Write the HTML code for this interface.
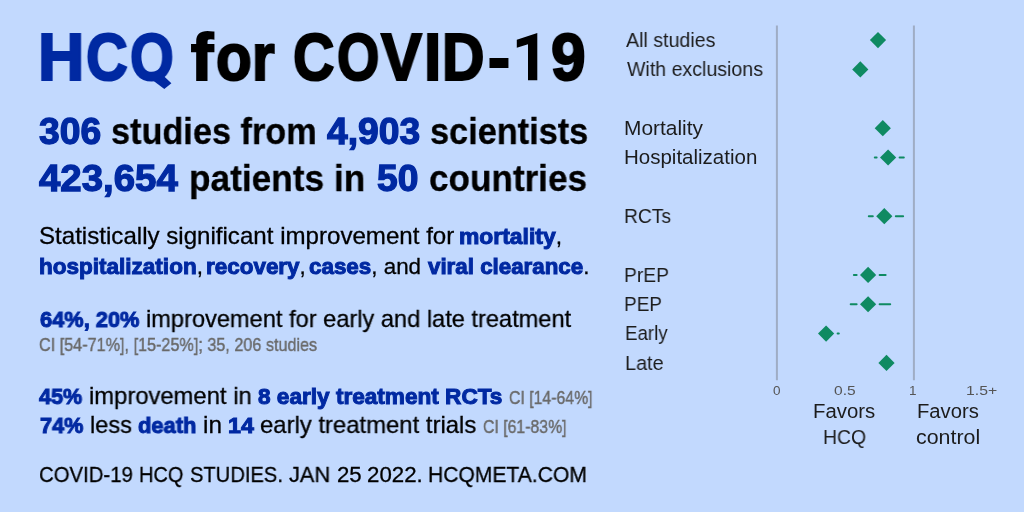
<!DOCTYPE html>
<html><head><meta charset="utf-8"><style>
html,body{margin:0;padding:0;}
body{width:1024px;height:512px;overflow:hidden;background:#c2d9fe;position:relative;font-family:"Liberation Sans",sans-serif;}
.ln,.fx{will-change:transform;position:absolute;white-space:nowrap;transform-origin:0 50%;color:#000;}
.b{color:#0029a2;font-weight:bold;}
.m{font-weight:bold;}
.ln{-webkit-text-stroke:0.3px currentColor;}
.ln .b{-webkit-text-stroke:1.0px currentColor;}
.ln .ci{-webkit-text-stroke:0.45px currentColor;}
.ln .lab{-webkit-text-stroke:0px currentColor;}
.ln .tk{-webkit-text-stroke:0px;}
.big .b,.big .m{-webkit-text-stroke:2.2px currentColor;}
.mid .b{-webkit-text-stroke:1.3px currentColor;}
.mid .m{-webkit-text-stroke:0.3px currentColor;}
.ci{color:#6a6a6a;}
.lab{color:#1c1c1c;}
.tk{color:#555;}
svg{position:absolute;left:0;top:0;}
</style></head><body>
<svg width="1024" height="512" viewBox="0 0 1024 512"><line x1="776.9" y1="25.6" x2="776.9" y2="380.2" stroke="#9fadc5" stroke-width="2"/><line x1="913.9" y1="25.6" x2="913.9" y2="380.2" stroke="#9fadc5" stroke-width="2"/><polygon points="869.90,40.10 878.00,32.00 886.10,40.10 878.00,48.20" fill="#0f8a62"/><polygon points="852.20,69.45 860.30,61.35 868.40,69.45 860.30,77.55" fill="#0f8a62"/><polygon points="874.70,128.15 882.80,120.05 890.90,128.15 882.80,136.25" fill="#0f8a62"/><line x1="874.80" y1="157.50" x2="876.60" y2="157.50" stroke="#0f8a62" stroke-width="2" stroke-linecap="round"/><line x1="899.60" y1="157.50" x2="903.80" y2="157.50" stroke="#0f8a62" stroke-width="2" stroke-linecap="round"/><polygon points="880.00,157.50 888.10,149.40 896.20,157.50 888.10,165.60" fill="#0f8a62"/><line x1="868.80" y1="216.20" x2="872.80" y2="216.20" stroke="#0f8a62" stroke-width="2" stroke-linecap="round"/><line x1="895.80" y1="216.20" x2="903.10" y2="216.20" stroke="#0f8a62" stroke-width="2" stroke-linecap="round"/><polygon points="876.20,216.20 884.30,208.10 892.40,216.20 884.30,224.30" fill="#0f8a62"/><line x1="853.90" y1="274.90" x2="856.60" y2="274.90" stroke="#0f8a62" stroke-width="2" stroke-linecap="round"/><line x1="879.60" y1="274.90" x2="885.60" y2="274.90" stroke="#0f8a62" stroke-width="2" stroke-linecap="round"/><polygon points="860.00,274.90 868.10,266.80 876.20,274.90 868.10,283.00" fill="#0f8a62"/><line x1="850.70" y1="304.25" x2="856.60" y2="304.25" stroke="#0f8a62" stroke-width="2" stroke-linecap="round"/><line x1="879.60" y1="304.25" x2="890.20" y2="304.25" stroke="#0f8a62" stroke-width="2" stroke-linecap="round"/><polygon points="860.00,304.25 868.10,296.15 876.20,304.25 868.10,312.35" fill="#0f8a62"/><line x1="837.60" y1="333.60" x2="838.80" y2="333.60" stroke="#0f8a62" stroke-width="2" stroke-linecap="round"/><polygon points="818.00,333.60 826.10,325.50 834.20,333.60 826.10,341.70" fill="#0f8a62"/><polygon points="878.40,362.95 886.50,354.85 894.60,362.95 886.50,371.05" fill="#0f8a62"/><polygon points="153,80.6 158.5,75.5 164.2,76.4 171.4,83.2 164.3,89.1" fill="#0029a2"/><polygon points="537.3,32.9 516.8,39.8 516.8,47.7 528,44.2 528,80.3 537.3,80.3" fill="#000"/></svg>
<div class="ln big" style="left:38.31px;top:23.72px;font-size:66px;line-height:66px;transform:scaleX(0.9709);"><span class="b">H</span></div><div class="ln big" style="left:86.17px;top:23.72px;font-size:66px;line-height:66px;transform:scaleX(0.8761);"><span class="b">C</span></div><div class="ln big" style="left:129.91px;top:23.72px;font-size:66px;line-height:66px;transform:scaleX(0.8503);"><span class="b">O</span></div><div class="ln big" style="left:190.69px;top:23.72px;font-size:66px;line-height:66px;transform:scaleX(1.0095);"><span class="m">f</span></div><div class="ln big" style="left:215.50px;top:23.72px;font-size:66px;line-height:66px;transform:scaleX(0.8847);"><span class="m">o</span></div><div class="ln big" style="left:252.35px;top:23.72px;font-size:66px;line-height:66px;transform:scaleX(0.8792);"><span class="m">r</span></div><div class="ln big" style="left:292.99px;top:23.72px;font-size:66px;line-height:66px;transform:scaleX(0.8672);"><span class="m">C</span></div><div class="ln big" style="left:337.39px;top:23.72px;font-size:66px;line-height:66px;transform:scaleX(0.8254);"><span class="m">O</span></div><div class="ln big" style="left:381.44px;top:23.72px;font-size:66px;line-height:66px;transform:scaleX(0.9264);"><span class="m">V</span></div><div class="ln big" style="left:424.36px;top:23.72px;font-size:66px;line-height:66px;transform:scaleX(0.9397);"><span class="m">I</span></div><div class="ln big" style="left:441.64px;top:23.72px;font-size:66px;line-height:66px;transform:scaleX(0.8887);"><span class="m">D</span></div><div class="ln big" style="left:488.31px;top:23.72px;font-size:66px;line-height:66px;transform:scaleX(0.9805);"><span class="m">-</span></div><div class="ln big" style="left:551.05px;top:23.72px;font-size:66px;line-height:66px;transform:scaleX(0.9418);"><span class="m">9</span></div><div class="ln mid" style="left:38.60px;top:113.27px;font-size:37px;line-height:37px;transform:scaleX(1.0068);"><span class="b">306</span></div><div class="ln mid" style="left:111.38px;top:113.27px;font-size:37px;line-height:37px;transform:scaleX(0.9261);"><span class="m">studies from</span></div><div class="ln mid" style="left:327.30px;top:113.27px;font-size:37px;line-height:37px;transform:scaleX(1.0066);"><span class="b">4,903</span></div><div class="ln mid" style="left:429.69px;top:113.27px;font-size:37px;line-height:37px;transform:scaleX(0.9274);"><span class="m">scientists</span></div><div class="ln mid" style="left:38.59px;top:160.17px;font-size:37px;line-height:37px;transform:scaleX(1.0373);"><span class="b">423,654</span></div><div class="ln mid" style="left:189.31px;top:160.17px;font-size:37px;line-height:37px;transform:scaleX(0.9525);"><span class="m">patients in</span></div><div class="ln mid" style="left:377.00px;top:160.17px;font-size:37px;line-height:37px;transform:scaleX(1.0054);"><span class="b">50</span></div><div class="ln mid" style="left:429.06px;top:160.17px;font-size:37px;line-height:37px;transform:scaleX(0.9487);"><span class="m">countries</span></div><div class="ln" style="left:38.80px;top:224.08px;font-size:24px;line-height:24px;transform:scaleX(1.0043);">Statistically significant improvement for</div><div class="ln" style="left:458.86px;top:225.52px;font-size:22.3px;line-height:22.3px;transform:scaleX(1.0266);"><span class="b">mortality</span>,</div><div class="ln" style="left:38.80px;top:255.82px;font-size:22.3px;line-height:22.3px;transform:scaleX(1.01);"><span class="b">hospitalization</span>,</div><div class="ln" style="left:205.68px;top:255.82px;font-size:22.3px;line-height:22.3px;transform:scaleX(1.0064);"><span class="b">recovery</span>,</div><div class="ln" style="left:309.18px;top:255.82px;font-size:22.3px;line-height:22.3px;transform:scaleX(1.0038);"><span class="b">cases</span>, and</div><div class="ln" style="left:427.50px;top:255.82px;font-size:22.3px;line-height:22.3px;transform:scaleX(1.0015);"><span class="b">viral clearance</span>.</div><div class="ln" style="left:39.91px;top:308.92px;font-size:22.3px;line-height:22.3px;transform:scaleX(0.9784);"><span class="b">64%, 20%</span></div><div class="ln" style="left:146.41px;top:307.48px;font-size:24px;line-height:24px;transform:scaleX(0.9837);">improvement for early and late treatment</div><div class="ln" style="left:39.09px;top:335.41px;font-size:19px;line-height:19px;transform:scaleX(0.8523);"><span class="ci">CI [54-71%], [15-25%]; 35, 206 studies</span></div><div class="ln" style="left:38.70px;top:385.52px;font-size:22.3px;line-height:22.3px;transform:scaleX(0.9683);"><span class="b">45%</span></div><div class="ln" style="left:89.41px;top:384.08px;font-size:24px;line-height:24px;transform:scaleX(0.9913);">improvement in</div><div class="ln" style="left:257.70px;top:385.52px;font-size:22.3px;line-height:22.3px;transform:scaleX(1.0132);"><span class="b">8 early treatment RCTs</span></div><div class="ln" style="left:508.73px;top:388.11px;font-size:19px;line-height:19px;transform:scaleX(0.8327);"><span class="ci">CI [14-64%]</span></div><div class="ln" style="left:39.80px;top:414.72px;font-size:22.3px;line-height:22.3px;transform:scaleX(0.9729);"><span class="b">74%</span></div><div class="ln" style="left:89.93px;top:413.28px;font-size:24px;line-height:24px;transform:scaleX(0.9809);">less</div><div class="ln" style="left:138.40px;top:414.72px;font-size:22.3px;line-height:22.3px;transform:scaleX(0.9831);"><span class="b">death</span></div><div class="ln" style="left:203.00px;top:413.28px;font-size:24px;line-height:24px;transform:scaleX(1.0141);">in</div><div class="ln" style="left:227.55px;top:414.72px;font-size:22.3px;line-height:22.3px;transform:scaleX(1.0417);"><span class="b">14</span></div><div class="ln" style="left:260.21px;top:413.28px;font-size:24px;line-height:24px;transform:scaleX(0.9945);">early treatment trials</div><div class="ln" style="left:483.12px;top:417.31px;font-size:19px;line-height:19px;transform:scaleX(0.8327);"><span class="ci">CI [61-83%]</span></div><div class="ln" style="left:38.83px;top:463.50px;font-size:22.2px;line-height:22.2px;transform:scaleX(0.9168);">COVID-19</div><div class="ln" style="left:138.94px;top:463.50px;font-size:22.2px;line-height:22.2px;transform:scaleX(0.9009);">HCQ</div><div class="ln" style="left:190.04px;top:463.50px;font-size:22.2px;line-height:22.2px;transform:scaleX(0.908);">STUDIES.</div><div class="ln" style="left:289.21px;top:463.50px;font-size:22.2px;line-height:22.2px;transform:scaleX(0.981);">JAN</div><div class="ln" style="left:336.53px;top:463.50px;font-size:22.2px;line-height:22.2px;transform:scaleX(1.0014);">25</div><div class="ln" style="left:367.31px;top:463.50px;font-size:22.2px;line-height:22.2px;transform:scaleX(1.004);">2022.</div><div class="ln" style="left:428.48px;top:463.50px;font-size:22.2px;line-height:22.2px;transform:scaleX(0.95);">HCQMETA.COM</div><div class="ln" style="left:626.30px;top:29.94px;font-size:20.5px;line-height:20.5px;transform:scaleX(0.957);"><span class="lab">All studies</span></div><div class="ln" style="left:626.78px;top:59.29px;font-size:20.5px;line-height:20.5px;transform:scaleX(0.9549);"><span class="lab">With exclusions</span></div><div class="ln" style="left:624.35px;top:117.99px;font-size:20.5px;line-height:20.5px;transform:scaleX(1.0188);"><span class="lab">Mortality</span></div><div class="ln" style="left:624.41px;top:147.34px;font-size:20.5px;line-height:20.5px;transform:scaleX(0.9968);"><span class="lab">Hospitalization</span></div><div class="ln" style="left:624.21px;top:206.04px;font-size:20.5px;line-height:20.5px;transform:scaleX(0.9407);"><span class="lab">RCTs</span></div><div class="ln" style="left:624.18px;top:264.74px;font-size:20.5px;line-height:20.5px;transform:scaleX(0.9383);"><span class="lab">PrEP</span></div><div class="ln" style="left:624.21px;top:294.09px;font-size:20.5px;line-height:20.5px;transform:scaleX(0.9269);"><span class="lab">PEP</span></div><div class="ln" style="left:624.80px;top:323.44px;font-size:20.5px;line-height:20.5px;transform:scaleX(0.9117);"><span class="lab">Early</span></div><div class="ln" style="left:624.66px;top:352.79px;font-size:20.5px;line-height:20.5px;transform:scaleX(0.9682);"><span class="lab">Late</span></div><div class="ln" style="left:773.02px;top:384.07px;font-size:13.5px;line-height:13.5px;transform:scaleX(0.9562);"><span class="tk">0</span></div><div class="ln" style="left:834.35px;top:384.07px;font-size:13.5px;line-height:13.5px;transform:scaleX(1.1538);"><span class="tk">0.5</span></div><div class="ln" style="left:909.49px;top:384.07px;font-size:13.5px;line-height:13.5px;transform:scaleX(0.9845);"><span class="tk">1</span></div><div class="ln" style="left:966.23px;top:384.07px;font-size:13.5px;line-height:13.5px;transform:scaleX(1.1687);"><span class="tk">1.5+</span></div><div class="ln" style="left:813.37px;top:400.57px;font-size:20px;line-height:20px;transform:scaleX(1.0172);"><span class="lab">Favors</span></div><div class="ln" style="left:822.85px;top:426.87px;font-size:20px;line-height:20px;transform:scaleX(0.9668);"><span class="lab">HCQ</span></div><div class="ln" style="left:917.21px;top:400.57px;font-size:20px;line-height:20px;transform:scaleX(1.0119);"><span class="lab">Favors</span></div><div class="ln" style="left:916.34px;top:426.87px;font-size:20px;line-height:20px;transform:scaleX(1.0692);"><span class="lab">control</span></div>
</body></html>
